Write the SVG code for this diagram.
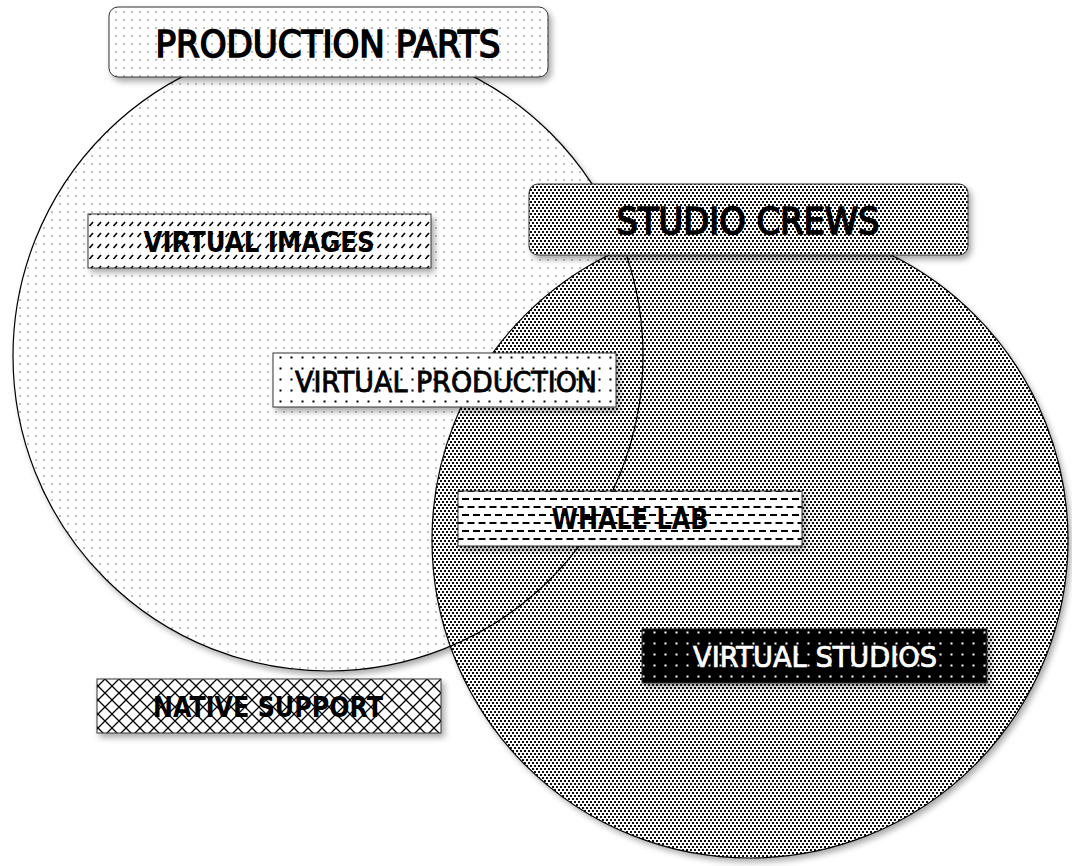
<svg xmlns="http://www.w3.org/2000/svg" width="1072" height="866" viewBox="0 0 1072 866">
<style>
.title{font-family:"DejaVu Sans Condensed","DejaVu Sans",sans-serif;font-stretch:condensed;font-size:38px;fill:#000;stroke:#000;stroke-width:1.6px;text-anchor:middle}
.lbl{font-family:"DejaVu Sans Condensed","DejaVu Sans",sans-serif;font-stretch:condensed;font-size:28px;fill:#000;text-anchor:middle}
.med{stroke:#000;stroke-width:0.8px}
.bold{font-weight:bold}
.box{stroke:#333;stroke-width:1}
.ring{fill:none;stroke:#000;stroke-width:1.2}
</style>
<defs>
<filter id="sh" x="-10%" y="-10%" width="125%" height="130%">
<feGaussianBlur in="SourceAlpha" stdDeviation="3"/>
<feOffset dx="3" dy="4" result="b"/>
<feComponentTransfer><feFuncA type="linear" slope="0.35"/></feComponentTransfer>
<feMerge><feMergeNode/><feMergeNode in="SourceGraphic"/></feMerge>
</filter>
<pattern id="pLight" width="8" height="8" patternUnits="userSpaceOnUse">
<rect width="8" height="8" fill="#fff"/><rect x="3" y="3" width="2" height="2" fill="#c0c0c0"/>
</pattern>
<pattern id="pDark" width="4" height="6" patternUnits="userSpaceOnUse">
<rect width="4" height="6" fill="#fff"/><rect x="0" y="0" width="2" height="2" fill="#111"/><rect x="2" y="3" width="2" height="2" fill="#111"/>
</pattern>
<pattern id="pHatch" width="8" height="11" patternUnits="userSpaceOnUse">
<rect width="8" height="11" fill="#fff"/><path d="M1.5 6 L5 2" stroke="#000" stroke-width="1.7"/>
</pattern>
<pattern id="pDots" width="11" height="11" patternUnits="userSpaceOnUse">
<rect width="11" height="11" fill="#fff"/><rect x="4.5" y="4.5" width="2" height="2" fill="#000"/>
</pattern>
<pattern id="pDash" width="11" height="16" patternUnits="userSpaceOnUse">
<rect width="11" height="16" fill="#fff"/><path d="M0 3 H7 M5.5 11 H11 M0 11 H1.5" stroke="#000" stroke-width="2"/>
</pattern>
<pattern id="pBlack" width="11" height="11" patternUnits="userSpaceOnUse">
<rect width="11" height="11" fill="#000"/><rect x="4.5" y="4.5" width="2" height="2" fill="#fff"/>
</pattern>
<pattern id="pCross" width="14" height="14" patternUnits="userSpaceOnUse">
<rect width="14" height="14" fill="#fff"/><path d="M0 0 L14 14 M14 0 L0 14" stroke="#000" stroke-width="1.3"/>
</pattern>
</defs>
<rect width="1072" height="866" fill="#fff"/>
<g id="connectors"></g>
<g id="set-production-parts-area">
<circle cx="328" cy="356" r="315" fill="url(#pLight)" filter="url(#sh)"/>
</g>
<g id="set-studio-crews-area">
<circle cx="750" cy="540" r="318" fill="url(#pDark)" filter="url(#sh)"/>
</g>
<g id="set-outlines">
<circle class="ring" cx="328" cy="356" r="315"/>
<circle class="ring" cx="750" cy="540" r="318"/>
</g>
<g id="title-production-parts">
<rect class="box" x="109" y="7" width="439" height="70" rx="9" fill="url(#pLight)" filter="url(#sh)"/>
<text class="title" x="328" y="57" textLength="345" lengthAdjust="spacingAndGlyphs">PRODUCTION PARTS</text>
</g>
<g id="title-studio-crews">
<rect class="box" x="529" y="184" width="439" height="71" rx="9" fill="url(#pDark)" filter="url(#sh)"/>
<text class="title" x="748" y="234" textLength="263" lengthAdjust="spacingAndGlyphs">STUDIO CREWS</text>
</g>
<g id="node-virtual-images">
<rect class="box" x="88" y="214" width="343" height="54" fill="url(#pHatch)" filter="url(#sh)"/>
<text class="lbl bold" x="259" y="252" textLength="231" lengthAdjust="spacingAndGlyphs">VIRTUAL IMAGES</text>
</g>
<g id="node-virtual-production">
<rect class="box" x="273" y="353" width="343" height="54" fill="url(#pDots)" filter="url(#sh)"/>
<text class="lbl med" x="446" y="392" textLength="302" lengthAdjust="spacingAndGlyphs">VIRTUAL PRODUCTION</text>
</g>
<g id="node-whale-lab">
<rect class="box" x="458" y="491" width="344" height="55" fill="url(#pDash)" filter="url(#sh)"/>
<text class="lbl bold" x="630" y="529" textLength="157" lengthAdjust="spacingAndGlyphs">WHALE LAB</text>
</g>
<g id="node-virtual-studios">
<rect class="box" x="642" y="629" width="345" height="54" fill="url(#pBlack)" filter="url(#sh)"/>
<text class="lbl" x="815" y="667" textLength="244" lengthAdjust="spacingAndGlyphs" style="fill:#fff;stroke:#fff;stroke-width:0.7px">VIRTUAL STUDIOS</text>
</g>
<g id="node-native-support">
<rect class="box" x="97" y="679" width="344" height="54" fill="url(#pCross)" filter="url(#sh)"/>
<text class="lbl bold" x="268" y="717" textLength="230" lengthAdjust="spacingAndGlyphs">NATIVE SUPPORT</text>
</g>
</svg>
